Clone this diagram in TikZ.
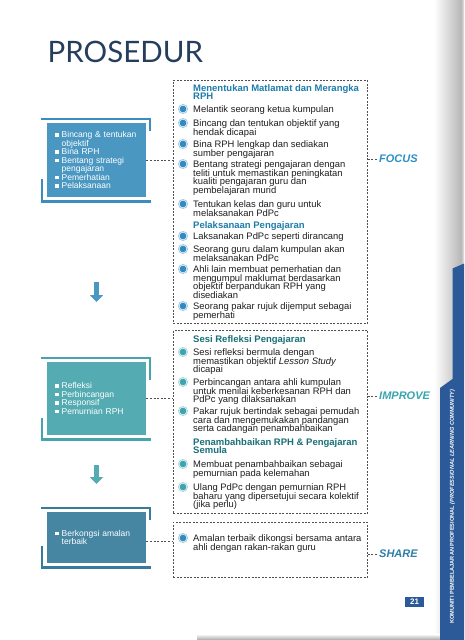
\documentclass[tikz,border=0pt]{standalone}
\usepackage{fontspec}
\setmainfont{Liberation Sans}
\newfontfamily\titlefont{Lato}
\usetikzlibrary{positioning,arrows.meta}

\definecolor{titlenavy}{RGB}{38,62,94}
\definecolor{focusblue}{RGB}{74,151,194}
\definecolor{focusedge}{RGB}{60,140,190}
\definecolor{improveteal}{RGB}{84,171,178}
\definecolor{improveedge}{RGB}{70,164,172}
\definecolor{sharesteel}{RGB}{70,134,163}
\definecolor{shareedge}{RGB}{55,122,156}
\definecolor{headblue}{RGB}{30,125,170}
\definecolor{headteal}{RGB}{24,112,120}
\definecolor{markblue}{RGB}{50,138,194}
\definecolor{markteal}{RGB}{64,164,174}
\definecolor{marksteel}{RGB}{52,140,186}
\definecolor{labelblue}{RGB}{45,143,196}
\definecolor{labelteal}{RGB}{56,166,173}
\definecolor{labelsteel}{RGB}{44,126,166}
\definecolor{tabblue}{RGB}{44,90,152}
\definecolor{dashgrey}{RGB}{80,80,80}
\definecolor{bodyink}{RGB}{30,30,30}

% tight leading as in the printed page
\lineskiplimit=-10pt

\newcommand{\sqbullet}{\makebox[6.5pt][l]{\rule[1pt]{3.5pt}{3.5pt}}}
\newcommand{\sqgap}{\hspace*{6.5pt}}

\tikzset{
  stagebox/.style={fill=#1, anchor=north west, minimum width=99pt, inner xsep=8pt, inner ysep=0pt,
    text width=83pt, align=left, text=white, font=\fontsize{8.5}{8.5}\selectfont},
  stageframe/.style={draw=#1, line width=2.4pt},
  noteframe/.style={draw=dashgrey, dash pattern=on 2pt off 1.4pt, line width=0.7pt, anchor=north west, inner sep=0pt},
  notedash/.style={draw=dashgrey, dash pattern=on 2pt off 1.6pt, line width=0.7pt},
  notetext/.style={anchor=north west, inner sep=0pt, align=left, text=bodyink, font=\fontsize{9.4}{8.6}\selectfont},
  notehead/.style={anchor=north west, inner sep=0pt, align=left, text=#1, font=\bfseries\fontsize{9.5}{8}\selectfont},
  stagelabel/.style={anchor=west, inner sep=0pt, text=#1, font=\bfseries\itshape\fontsize{11}{11}\selectfont},
  flowarrow/.style={draw=#1, line width=5pt, -{Triangle[width=13pt,length=7pt]}},
  pics/ringmark/.style={code={
    \fill[#1!45] (0,0) circle (5pt);
    \fill[white] (0,0) circle (4pt);
    \fill[#1] (0,0) circle (3.4pt);
  }}
}

\begin{document}
\begin{tikzpicture}[x=1pt, y=-1pt]
  \useasboundingbox (0,0) rectangle (464,640);
  \fill[white] (0,0) rectangle (464,640);

  % page edge shading and side tab
  \shade[left color=white, right color=black!28] (434,0) rectangle (461,640);
  \shade[left color=black!28, right color=black!10] (461,0) rectangle (464,640);
  \shade[top color=white, bottom color=black!35] (197,634) rectangle (440,640);
  \fill[tabblue] (452.5,268.5) -- (464,263.5) -- (464,640) -- (440,640) -- (440,388) -- (452.5,379) -- cycle;
  \node[rotate=90, anchor=west, inner sep=0pt, text=white, font=\bfseries\fontsize{5.6}{6}\selectfont] (tabtext) at (452.5,624)
    {KOMUNITI PEMBELAJARAN PROFESIONAL \textit{(PROFESSIONAL LEARNING COMMUNITY)}};
  \node[fill=tabblue, text=white, font=\bfseries\fontsize{8}{8}\selectfont, minimum width=19pt, minimum height=10.5pt, inner sep=0pt] (pagenum) at (414.5,602) {21};

  % title
  \node[anchor=base west, inner sep=0pt, text=titlenavy, font=\titlefont\fontsize{29.5}{30}\selectfont] (title) at (47.5,62) {PROSEDUR};

  % stage boxes
  \node[stagebox=focusblue, minimum height=74pt] (focusbox) at (47,123)
    {\sqbullet Bincang \& tentukan\\\sqgap objektif\\\sqbullet Bina RPH\\\sqbullet Bentang strategi\\\sqgap pengajaran\\\sqbullet Pemerhatian\\\sqbullet Pelaksanaan};
  \node[stagebox=improveteal, minimum height=73pt] (improvebox) at (47,362)
    {\sqbullet Refleksi\\\sqbullet Perbincangan\\\sqbullet Responsif\\\sqbullet Pemurnian RPH};
  \node[stagebox=sharesteel, minimum height=51pt] (sharebox) at (47,512)
    {\sqbullet Berkongsi amalan\\\sqgap terbaik};

  % bracket frames round the stage boxes
  \foreach \stage/\edge/\tick/\low in {focusbox/focusedge/12.2/22.5, improvebox/improveedge/22.2/21.8, sharebox/shareedge/12.2/21.7} {
    \draw[stageframe=\edge] ([xshift=-6.3pt, yshift=4pt]\stage.north west) -- ([xshift=3.5pt, yshift=4pt]\stage.north east) -- ++(0,\tick);
    \draw[stageframe=\edge] ([xshift=-5pt, yshift=-4pt]\stage.south west) ++(0,-\low) -- ++(0,\low) -- ([xshift=4.7pt, yshift=-4pt]\stage.south east);
  }

  % arrows between stages
  \coordinate (focusdown) at (96.5,282);
  \coordinate (improveup) at (96.5,302);
  \coordinate (improvedown) at (96.5,465);
  \coordinate (shareup) at (96.5,484);
  \draw[flowarrow=focusblue] (focusdown) -- (improveup);
  \draw[flowarrow=improveteal] (improvedown) -- (shareup);

  % dashed note frames
  \node[noteframe, minimum width=194pt, minimum height=243pt] (focusnotes) at (173,80) {};
  \node[noteframe, minimum width=194pt, minimum height=183pt] (improvenotes) at (173,330) {};
  \node[noteframe, minimum width=194pt, minimum height=55pt] (sharenotes) at (173,522) {};

  \draw[notedash] (focusbox.east) -- (focusbox.east -| focusnotes.west);
  \draw[notedash] (improvebox.east) -- (improvebox.east -| improvenotes.west);
  \draw[notedash] ([yshift=-3.5pt]sharebox.east) -- ([yshift=-3.5pt]sharebox.east -| sharenotes.west);

  % stage labels
  \node[stagelabel=labelblue] (focuslabel) at (379,159) {FOCUS};
  \node[stagelabel=labelteal] (improvelabel) at (379,396) {IMPROVE};
  \node[stagelabel=labelsteel] (sharelabel) at (379,554) {SHARE};
  \draw[notedash] (focusnotes.east |- focuslabel.west) -- ([xshift=-1pt]focuslabel.west);
  \draw[notedash] (improvenotes.east |- improvelabel.west) -- ([xshift=-1pt]improvelabel.west);
  \draw[notedash] (sharenotes.east |- sharelabel.west) -- ([xshift=-1pt]sharelabel.west);

  % FOCUS notes
  \node[notehead=headblue] (focushead) at (193,84.5) {Menentukan Matlamat dan Merangka\\RPH};
  \node[notehead=headblue] (teachhead) at (193,221.5) {Pelaksanaan Pengajaran};
  \foreach \y/\txt [count=\i] in {
      109/{Melantik seorang ketua kumpulan},
      123/{Bincang dan tentukan objektif yang\\hendak dicapai},
      144/{Bina RPH lengkap dan sediakan\\sumber pengajaran},
      164/{Bentang strategi pengajaran dengan\\teliti untuk memastikan peningkatan\\kualiti pengajaran guru dan\\pembelajaran murid},
      204/{Tentukan kelas dan guru untuk\\melaksanakan PdPc},
      236/{Laksanakan PdPc seperti dirancang},
      249/{Seorang guru dalam kumpulan akan\\melaksanakan PdPc},
      269/{Ahli lain membuat pemerhatian dan\\mengumpul maklumat berdasarkan\\objektif berpandukan RPH yang\\disediakan},
      306/{Seorang pakar rujuk dijemput sebagai\\pemerhati}} {
    \pic at (183,\y) {ringmark=markblue};
    \node[notetext] (focusitem\i) at (193,\y-3.4) {\txt};
  }

  % IMPROVE notes
  \node[notehead=headteal] (reflecthead) at (193,335.5) {Sesi Refleksi Pengajaran};
  \node[notehead=headteal] (refinehead) at (193,438.5) {Penambahbaikan RPH \& Pengajaran\\Semula};
  \foreach \y/\txt [count=\i] in {
      352/{Sesi refleksi bermula dengan\\memastikan objektif \textit{Lesson Study}\\dicapai},
      382/{Perbincangan antara ahli kumpulan\\untuk menilai keberkesanan RPH dan\\PdPc yang dilaksanakan},
      411/{Pakar rujuk bertindak sebagai pemudah\\cara dan mengemukakan pandangan\\serta cadangan penambahbaikan},
      464/{Membuat penambahbaikan sebagai\\pemurnian pada kelemahan},
      487/{Ulang PdPc dengan pemurnian RPH\\baharu yang dipersetujui secara kolektif\\(jika perlu)}} {
    \pic at (183,\y) {ringmark=markteal};
    \node[notetext] (improveitem\i) at (193,\y-3.4) {\txt};
  }

  % SHARE notes
  \pic at (183,538) {ringmark=marksteel};
  \node[notetext] (shareitem) at (193,534.6) {Amalan terbaik dikongsi bersama antara\\ahli dengan rakan-rakan guru};
\end{tikzpicture}
\end{document}
